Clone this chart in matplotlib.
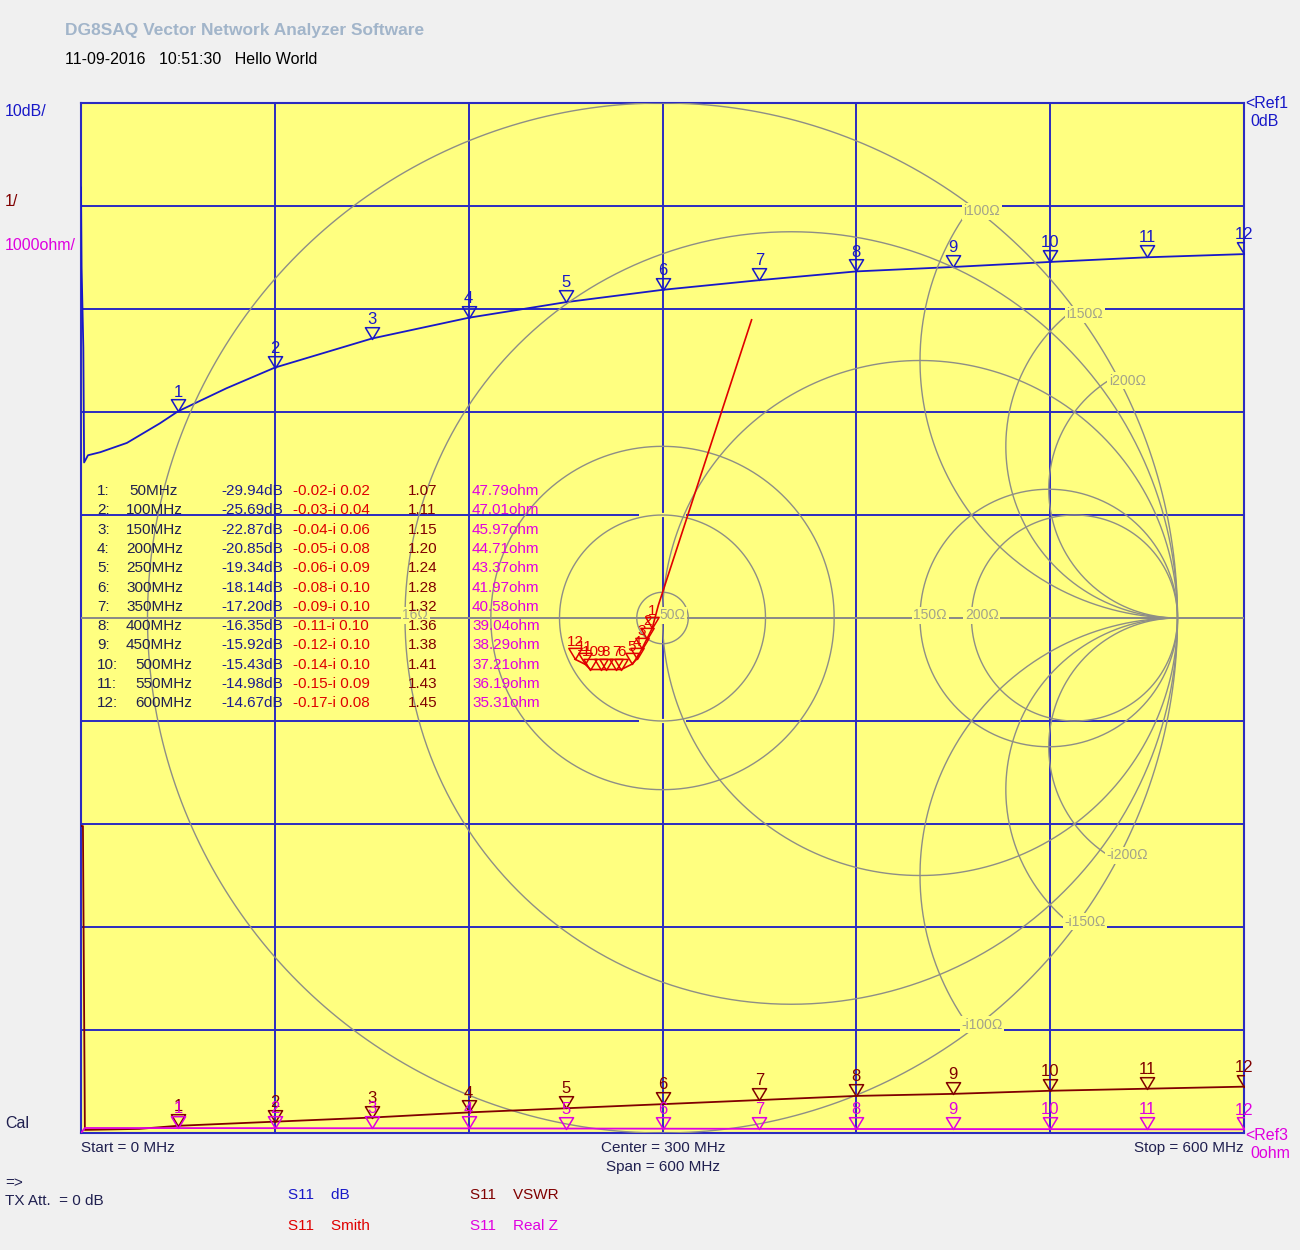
import numpy as np
import matplotlib
matplotlib.use("Agg")
import matplotlib.pyplot as plt
from matplotlib.path import Path
from matplotlib.markers import MarkerStyle

plt.rcParams['font.family'] = ['Liberation Sans', 'DejaVu Sans']

# ---------------- data ----------------
marker_freq = [50, 100, 150, 200, 250, 300, 350, 400, 450, 500, 550, 600]
marker_db = [-29.94, -25.69, -22.87, -20.85, -19.34, -18.14, -17.20, -16.35, -15.92, -15.43, -14.98, -14.67]
marker_re = [-0.02, -0.03, -0.04, -0.05, -0.06, -0.08, -0.09, -0.11, -0.12, -0.14, -0.15, -0.17]
marker_im = [-0.02, -0.04, -0.06, -0.08, -0.09, -0.10, -0.10, -0.10, -0.10, -0.10, -0.09, -0.08]
marker_vswr = [1.07, 1.11, 1.15, 1.20, 1.24, 1.28, 1.32, 1.36, 1.38, 1.41, 1.43, 1.45]
marker_realz = [47.79, 47.01, 45.97, 44.71, 43.37, 41.97, 40.58, 39.04, 38.29, 37.21, 36.19, 35.31]

# dB trace
db_freq = [0, 0.3, 1.2, 1.6, 3.6, 10, 23.7, 40.7, 50, 75, 100, 150, 200, 250, 300, 350, 400, 450, 500, 550, 600]
db_vals = [-8.2, -16.0, -23.7, -34.9, -34.2, -33.9, -33.0, -31.1, -29.94, -27.7, -25.69, -22.87, -20.85,
           -19.34, -18.14, -17.20, -16.35, -15.92, -15.43, -14.98, -14.67]

# VSWR trace
vswr_freq = [0, 1.0, 2.0, 30, 50, 100, 150, 200, 250, 300, 350, 400, 450, 500, 550, 600]
vswr_vals = [3.98, 3.98, 1.03, 1.04, 1.07, 1.11, 1.15, 1.20, 1.24, 1.28, 1.32, 1.36, 1.38, 1.41, 1.43, 1.45]

# Real Z trace
rz_freq = [0, 2, 50, 100, 150, 200, 250, 300, 350, 400, 450, 500, 550, 600]
rz_vals = [0, 48.5, 47.79, 47.01, 45.97, 44.71, 43.37, 41.97, 40.58, 39.04, 38.29, 37.21, 36.19, 35.31]

# Smith trace (reflection coefficient)
sm_re = [0.173, -0.008, -0.02, -0.03, -0.04, -0.05, -0.06, -0.08, -0.09, -0.11, -0.12, -0.14, -0.15, -0.17]
sm_im = [0.579, 0.025, -0.02, -0.04, -0.06, -0.08, -0.09, -0.10, -0.10, -0.10, -0.10, -0.10, -0.09, -0.08]

# Smith grid values (normalized to 50 ohm)
res_circles = [1/3, 1, 3, 4]
react_arcs = [2, 3, 4]
gamma_circles = [0.05, 0.2, 1/3]

# ---------------- colours ----------------
BG = '#F0F0F0'
YEL = '#FFFF80'
GRID = '#2B2BC0'
SMG = '#8E8E86'
SMLBL = '#A3A38A'
C_DB = '#1818C8'
C_SM = '#E00000'
C_VS = '#800000'
C_RZ = '#E000E0'
C_TXT = '#202050'

W, H = 1300, 1250
fig = plt.figure(figsize=(13, 12.5), dpi=100, facecolor=BG)

# pixel overlay axes for texts
ov = fig.add_axes([0, 0, 1, 1])
ov.set_xlim(0, W)
ov.set_ylim(H, 0)
ov.axis('off')
ov.set_zorder(10)

L, R, T, B = 81, 1244, 103, 1133
pos = [L / W, 1 - B / H, (R - L) / W, (B - T) / H]

# base axes: dB scale
ax = fig.add_axes(pos)
ax.set_facecolor(YEL)
ax.set_xlim(0, 600)
ax.set_ylim(-100, 0)
ax.set_xticks([])
ax.set_yticks([])
for s in ax.spines.values():
    s.set_color(GRID)
    s.set_linewidth(1.5)
for xv in range(100, 600, 100):
    ax.axvline(xv, color=GRID, lw=1.4, zorder=1)
for yv in range(-90, 0, 10):
    ax.axhline(yv, color=GRID, lw=1.4, zorder=1)

# smith axes
sx = fig.add_axes(pos, frameon=False)
half_w = (R - L) / 2 / ((B - T) / 2)
sx.set_xlim(-half_w, half_w)
sx.set_ylim(-1, 1)
sx.set_xticks([]); sx.set_yticks([])
sx.patch.set_alpha(0)

lw_s = 1.0
t = np.linspace(0, 2 * np.pi, 721)
sx.plot(np.cos(t), np.sin(t), color=SMG, lw=lw_s, zorder=2)
sx.plot([-half_w, 1], [0, 0], color=SMG, lw=1.4, zorder=2)
sx.plot([1, half_w], [0, 0], color=SMG, lw=1.4, zorder=2)
for r in res_circles:
    c = r / (1 + r); rad = 1 / (1 + r)
    sx.plot(c + rad * np.cos(t), rad * np.sin(t), color=SMG, lw=lw_s, zorder=2)
rr = np.concatenate([[0], np.logspace(-3, 3, 600)])
for xr in react_arcs:
    for sgn in (1, -1):
        z = rr + 1j * sgn * xr
        g = (z - 1) / (z + 1)
        sx.plot(g.real, g.imag, color=SMG, lw=lw_s, zorder=2)
for gr in gamma_circles:
    sx.plot(gr * np.cos(t), gr * np.sin(t), color=SMG, lw=lw_s, zorder=2)

# small yellow gaps in the grid where the |G|=0.2 circle meets the centre line
for yy in (0.2, -0.2):
    sx.plot([-0.045, 0.045], [yy, yy], color=YEL, lw=3, zorder=1.5, solid_capstyle='butt')

lbl_kw = dict(color=SMLBL, fontsize=10, ha='center', va='center', zorder=3,
              bbox=dict(boxstyle='square,pad=0.1', fc=YEL, ec='none'))
def gam(z):
    return (z - 1) / (z + 1)
for xr, txt in zip(react_arcs, ['i100Ω', 'i150Ω', 'i200Ω']):
    g = gam(1j * xr)
    sx.text(g.real + 0.02, g.imag - 0.01, txt, **lbl_kw)
    sx.text(g.real + 0.02, -g.imag + 0.01, '-' + txt, **lbl_kw)
for r, txt in [(1/3, '16Ω'), (3, '150Ω'), (4, '200Ω')]:
    g = gam(r)
    sx.text(g.real + 0.02, 0.005, txt, **lbl_kw)
sx.text(0.02, 0.005, '50Ω', **lbl_kw)

# marker path (triangle, tip at data point)
tri = MarkerStyle(Path([(-0.6, 1.0), (0.6, 1.0), (0.0, 0.0), (-0.6, 1.0)],
                       [Path.MOVETO, Path.LINETO, Path.LINETO, Path.CLOSEPOLY]))

def draw_markers(a, xs, ys, color, fs=12, off=8.5, ms=17):
    a.plot(xs, ys, linestyle='none', marker=tri, markersize=ms, markerfacecolor='none',
           markeredgecolor=color, markeredgewidth=1.1, zorder=6)
    for i, (xv, yv) in enumerate(zip(xs, ys)):
        a.annotate(str(i + 1), (xv, yv), xytext=(0, off), textcoords='offset points',
                   ha='center', va='bottom', color=color, fontsize=fs, zorder=6)

# smith trace
sx.plot(sm_re, sm_im, color=C_SM, lw=1.2, zorder=5)
draw_markers(sx, marker_re, marker_im, C_SM, fs=11, off=7.5, ms=16)

# dB trace
ax.plot(db_freq, db_vals, color=C_DB, lw=1.3, zorder=5)
draw_markers(ax, marker_freq, marker_db, C_DB)

# VSWR axes
vx = fig.add_axes(pos, frameon=False)
vx.set_xlim(0, 600); vx.set_ylim(1, 11)
vx.set_xticks([]); vx.set_yticks([]); vx.patch.set_alpha(0)
vx.plot(vswr_freq, vswr_vals, color=C_VS, lw=1.3, zorder=5)
draw_markers(vx, marker_freq, marker_vswr, C_VS)

# Real Z axes
zx = fig.add_axes(pos, frameon=False)
zx.set_xlim(0, 10000 * 0 + 600); zx.set_ylim(0, 10000)
zx.set_xticks([]); zx.set_yticks([]); zx.patch.set_alpha(0)
zx.plot(rz_freq, rz_vals, color=C_RZ, lw=1.3, zorder=5)
draw_markers(zx, marker_freq, marker_realz, C_RZ)

# ---------------- texts ----------------
ov.text(65, 30, 'DG8SAQ Vector Network Analyzer Software', color='#A2B5CA', fontsize=12.5,
        fontweight='bold', ha='left', va='center')
ov.text(65, 59, '11-09-2016   10:51:30   Hello World', color='black', fontsize=11.5, ha='left', va='center')
ov.text(5, 112, '10dB/', color=C_DB, fontsize=11.5, va='center')
ov.text(5, 201, '1/', color=C_VS, fontsize=11.5, va='center')
ov.text(5, 246, '1000ohm/', color=C_RZ, fontsize=11.5, va='center')
ov.text(5, 1124, 'Cal', color=C_TXT, fontsize=11.5, va='center')
ov.text(1245, 103, '<Ref1', color=C_DB, fontsize=11.5, va='center')
ov.text(1250, 121, '0dB', color=C_DB, fontsize=11.5, va='center')
ov.text(1245, 1135, '<Ref3', color=C_RZ, fontsize=11.5, va='center')
ov.text(1250, 1154, '0ohm', color=C_RZ, fontsize=11.5, va='center')
ov.text(81, 1148, 'Start = 0 MHz', color=C_TXT, fontsize=11, va='center')
ov.text(663, 1148, 'Center = 300 MHz', color=C_TXT, fontsize=11, va='center', ha='center')
ov.text(663, 1167, 'Span = 600 MHz', color=C_TXT, fontsize=11, va='center', ha='center')
ov.text(1244, 1148, 'Stop = 600 MHz', color=C_TXT, fontsize=11, va='center', ha='right')
ov.text(5, 1183, '=>', color=C_TXT, fontsize=11, va='center')
ov.text(5, 1201, 'TX Att.  = 0 dB', color=C_TXT, fontsize=11, va='center')
ov.text(288, 1195, 'S11    dB', color=C_DB, fontsize=11, va='center')
ov.text(288, 1226, 'S11    Smith', color=C_SM, fontsize=11, va='center')
ov.text(470, 1195, 'S11    VSWR', color=C_VS, fontsize=11, va='center')
ov.text(470, 1226, 'S11    Real Z', color=C_RZ, fontsize=11, va='center')

# marker table
y0, dy = 491, 19.3
for i in range(12):
    yy = y0 + i * dy
    ov.text(97, yy, f'{i + 1}:', color=C_TXT, fontsize=11, va='center')
    xr_ = 192 if i >= 9 else (178 if i == 0 else 183)
    ov.text(xr_, yy, f'{marker_freq[i]}MHz', color=C_TXT, fontsize=11, va='center', ha='right')
    ov.text(283, yy, f'{marker_db[i]:.2f}dB', color='#1c1c90', fontsize=11, va='center', ha='right')
    ov.text(293, yy, f'{marker_re[i]:.2f}-i {abs(marker_im[i]):.2f}', color=C_SM, fontsize=11, va='center')
    ov.text(408, yy, f'{marker_vswr[i]:.2f}', color=C_VS, fontsize=11, va='center')
    ov.text(472, yy, f'{marker_realz[i]:.2f}ohm', color=C_RZ, fontsize=11, va='center')

fig.savefig('out.png', dpi=100, facecolor=BG)
